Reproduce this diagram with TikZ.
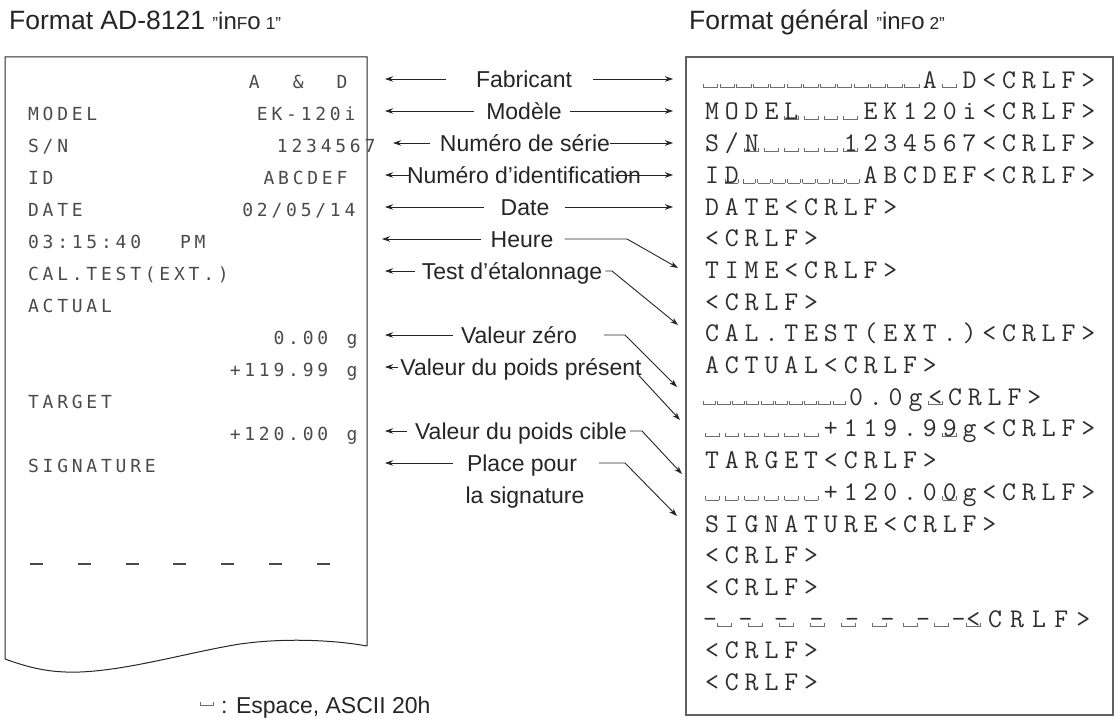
\documentclass[tikz,border=0pt]{standalone}
\usepackage{fontspec}
\usepackage{graphicx}
\setmainfont{Liberation Sans}
\newfontfamily\lmonofont{DejaVu Sans Mono}
\usetikzlibrary{arrows.meta}
\definecolor{labink}{HTML}{262425}
\definecolor{prink}{HTML}{2E2E2E}
\definecolor{dotink}{HTML}{4A4A4A}
\definecolor{frame}{HTML}{606060}

\newlength\cellw
\newlength\boxw
\setlength\cellw{19.8pt}
\setlength\boxw{13pt}
\newcommand\spbox{{\color{prink!70}\rule{0.8pt}{4pt}\rule{\boxw}{0.8pt}\rule{0.8pt}{4pt}}}

\ExplSyntaxOn
\cs_new_protected:Npn \ad_cell:n #1
  {
    \str_case:nnF {#1}
      {
        {*} { \makebox[\cellw][c]{\spbox} }
        {!} { \makebox[0pt][l]{\hspace*{\dimexpr 0.5\cellw-0.5\boxw-0.8pt\relax}\spbox} }
      }
      { \makebox[\cellw][c]{#1} }
  }
\NewDocumentCommand \cells { m } { \tl_map_function:nN {#1} \ad_cell:n }
\ExplSyntaxOff

% a run of #1 space boxes squeezed into width #2
\newcommand\sprun[2]{\makebox[#2][l]{\setlength\boxw{\dimexpr #2/#1-3pt\relax}%
  \foreach \j in {1,...,#1}{\makebox[\dimexpr #2/#1\relax][c]{\spbox}}}}
\newcommand\dashrow{\makebox[260pt][l]{%
  \foreach \i in {0,...,7}{%
    \rlap{\hspace*{\fpeval{1+35.5*\i}pt}-}%
    \rlap{\hspace*{\fpeval{15+31*\i}pt}\spbox}}}}
\newcommand\segtxt[1]{{\fontsize{24pt}{24pt}\selectfont #1}}
\newcommand\sq{\scalebox{0.72}{"}}
\newcommand\sg[1]{\scalebox{0.72}{#1}}

\tikzset{
  lab/.style={font=\fontsize{23pt}{25pt}\selectfont, text=labink, inner sep=0pt, text height=16.5pt, text depth=0pt},
  ttl/.style={font=\fontsize{26.5pt}{28pt}\selectfont, text=labink, inner sep=0pt, anchor=west, text height=19pt, text depth=0pt},
  lline/.style={font=\lmonofont\fontsize{18pt}{20pt}\selectfont\setlength\cellw{14.6pt}, text=dotink, inner sep=0pt, text height=13pt, text depth=0pt},
  rline/.style={font=\ttfamily\fontsize{27pt}{29pt}\selectfont\setlength\cellw{19.8pt}\setlength\boxw{13pt}, text=prink, inner sep=0pt, text height=16.5pt, text depth=0pt, anchor=west},
  arr/.style={draw=labink, line width=0.9pt, line join=round, -{Stealth[length=8pt,width=5.5pt]}},
  ldash/.style={draw=dotink, line width=1.4pt},
}

\begin{document}
\begin{tikzpicture}[x=1pt,y=-1pt]
\useasboundingbox (0,0) rectangle (1115,719);

% titles
\node[ttl] (t1) at (9,20) {Format AD-8121 \segtxt{\sq in\sg{F}o\hspace{5pt}\sg{1}\sq}};
\node[ttl] (t2) at (689,20) {Format général \segtxt{\sq in\sg{F}o\hspace{5pt}\sg{2}\sq}};

% frames
\draw[line width=1pt, draw=black!85] (367,646) -- (367,57) -- (5,57) -- (5,659)
  .. controls (30,668) and (50,673) .. (80,672)
  .. controls (130,670) and (190,652) .. (240,644)
  .. controls (290,637) and (340,641) .. (367,646);
\draw[line width=1.6pt, draw=frame] (686,57) rectangle (1113,715);

% left printout
\node[lline, anchor=east] (lAD)  at (349.5,82)  {\cells{A~~\&~~D}};
\node[lline, anchor=west] (lMOD) at (26,114)    {\cells{MODEL}};
\node[lline, anchor=east] (lEK)  at (357.5,114) {\cells{EK-120i}};
\node[lline, anchor=west] (lSN)  at (26,146)    {\cells{S/N}};
\node[lline, anchor=east] (lSNv) at (377.5,146) {\cells{1234567}};
\node[lline, anchor=west] (lID)  at (26,178)    {\cells{ID}};
\node[lline, anchor=east] (lIDv) at (349.5,178) {\cells{ABCDEF}};
\node[lline, anchor=west] (lDA)  at (26,210)    {\cells{DATE}};
\node[lline, anchor=east] (lDAv) at (357.5,210) {\cells{02/05/14}};
\node[lline, anchor=west] (lTI)  at (26,242)    {\cells{03:15:40}};
\node[lline, anchor=west] (lPM)  at (178,242)   {\cells{PM}};
\node[lline, anchor=west] (lCA)  at (26,274)    {\cells{CAL.TEST(EXT.)}};
\node[lline, anchor=west] (lAC)  at (26,306)    {\cells{ACTUAL}};
\node[lline, anchor=east] (lZE)  at (359.5,338) {\cells{0.00~g}};
\node[lline, anchor=east] (lPR)  at (359.5,370) {\cells{+119.99~g}};
\node[lline, anchor=west] (lTA)  at (26,402)    {\cells{TARGET}};
\node[lline, anchor=east] (lCI)  at (359.5,434) {\cells{+120.00~g}};
\node[lline, anchor=west] (lSI)  at (26,466)    {\cells{SIGNATURE}};
\foreach \i in {0,...,6}{\draw[ldash] ({30+47.8*\i},564) -- ({43+47.8*\i},564);}

% right printout
\node[rline] (r1)  at (702,80.0)  {\sprun{13}{217.8pt}\cells{A*D<CRLF>}};
\node[rline] (r2)  at (702,111.7) {\cells{MODE!L***EK120i<CRLF>}};
\node[rline] (r3)  at (702,143.4) {\cells{S/!N****!1234567<CRLF>}};
\node[rline] (r4)  at (702,175.1) {\cells{I!D}\sprun{8}{118.8pt}\cells{ABCDEF<CRLF>}};
\node[rline] (r5)  at (702,206.8) {\cells{DATE<CRLF>}};
\node[rline] (r6)  at (702,238.5) {\cells{<CRLF>}};
\node[rline] (r7)  at (702,270.2) {\cells{TIME<CRLF>}};
\node[rline] (r8)  at (702,301.9) {\cells{<CRLF>}};
\node[rline] (r9)  at (702,333.6) {\cells{CAL.TEST(EXT.)<CRLF>}};
\node[rline] (r10) at (702,365.3) {\cells{ACTUAL<CRLF>}};
\node[rline] (r11) at (702,397.0) {\sprun{10}{144pt}\cells{0.0g!<CRLF>}};
\node[rline] (r12) at (702,428.7) {\cells{******+119.9!9g<CRLF>}};
\node[rline] (r13) at (702,460.4) {\cells{TARGET<CRLF>}};
\node[rline] (r14) at (702,492.1) {\cells{******+120.0!0g<CRLF>}};
\node[rline] (r15) at (702,523.8) {\cells{SIGNATURE<CRLF>}};
\node[rline] (r16) at (702,555.5) {\cells{<CRLF>}};
\node[rline] (r17) at (702,587.2) {\cells{<CRLF>}};
\node[rline] (r18) at (702,618.9) {\dashrow\setlength\cellw{22pt}\cells{!<CRLF>}};
\node[rline] (r19) at (702,650.6) {\cells{<CRLF>}};
\node[rline] (r20) at (702,682.3) {\cells{<CRLF>}};

% labels
\node[lab] (fab)   at (524,79)  {Fabricant};
\node[lab] (mod)   at (524,111) {Modèle};
\node[lab] (ser)   at (525,143) {Numéro de série};
\node[lab] (ident) at (524,175) {Numéro d’identification};
\node[lab] (date)  at (525,207) {Date};
\node[lab] (heure) at (522,239) {Heure};
\node[lab] (test)  at (512,271) {Test d’étalonnage};
\node[lab] (zero)  at (519,335) {Valeur zéro};
\node[lab] (pres)  at (521,367) {Valeur du poids présent};
\node[lab] (cible) at (521,431) {Valeur du poids cible};
\node[lab] (place) at (522,463) {Place pour};
\node[lab] (lasig) at (525,495) {la signature};

% arrow end points
\coordinate (tipL) at (385,0);
\coordinate (tipR) at (673,0);
\coordinate (tipSer) at (393,0);
\coordinate (tipHe) at (382,0);
\coordinate (kHe) at (627,239);
\coordinate (eHe) at (678,268);
\coordinate (kTe) at (612,271);
\coordinate (eTe) at (678,325);
\coordinate (kZe) at (625,335);
\coordinate (eZe) at (677,387);
\coordinate (ePr) at (680,420);
\coordinate (kCi) at (642,431);
\coordinate (eCi) at (682,474);
\coordinate (kPl) at (625,463);
\coordinate (ePl) at (677,516);

% left arrows
\draw[arr] ([xshift=-30pt]fab.west)  -- (fab.west -| tipL);
\draw[arr] ([xshift=-12pt]mod.west)  -- (mod.west -| tipL);
\draw[arr] ([xshift=-10pt]ser.west)  -- (ser.west -| tipSer);
\draw[arr] ([xshift=2pt]ident.west)  -- (ident.west -| tipL);
\draw[arr] ([xshift=-17pt]date.west) -- (date.west -| tipL);
\draw[arr] ([xshift=-9pt]heure.west) -- (heure.west -| tipHe);
\draw[arr] ([xshift=-7pt]test.west)  -- (test.west -| tipL);
\draw[arr] ([xshift=-8pt]zero.west)  -- (zero.west -| tipL);
\draw[arr] ([xshift=-2pt]pres.west)  -- (pres.west -| tipL);
\draw[arr] ([xshift=-8pt]cible.west) -- (cible.west -| tipL);
\draw[arr] ([xshift=-14pt]place.west) -- (place.west -| tipL);

% right arrows
\draw[arr] ([xshift=21pt]fab.east)   -- (fab.east -| tipR);
\draw[arr] ([xshift=8pt]mod.east)    -- (mod.east -| tipR);
\draw[arr] ([xshift=0pt]ser.east)    -- (ser.east -| tipR);
\draw[arr] ([xshift=-26pt]ident.east) -- (ident.east -| tipR);
\draw[arr] ([xshift=15pt]date.east)  -- (date.east -| tipR);
\draw[arr] ([xshift=11pt]heure.east) -- (kHe) -- (eHe);
\draw[arr] ([xshift=3pt]test.east)   -- (kTe) -- (eTe);
\draw[arr] ([xshift=27pt]zero.east)  -- (kZe) -- (eZe);
\draw[arr] ([xshift=-3pt]pres.south east) -- (ePr);
\draw[arr] ([xshift=3pt]cible.east)  -- (kCi) -- (eCi);
\draw[arr] ([xshift=22pt]place.east) -- (kPl) -- (ePl);

% legend
\node[inner sep=0pt, anchor=south west] (legsym) at (200,706) {\setlength\boxw{11.5pt}\spbox};
\node[lab, anchor=west] (leg) at (221,705) {: Espace, ASCII 20h};
\end{tikzpicture}
\end{document}
